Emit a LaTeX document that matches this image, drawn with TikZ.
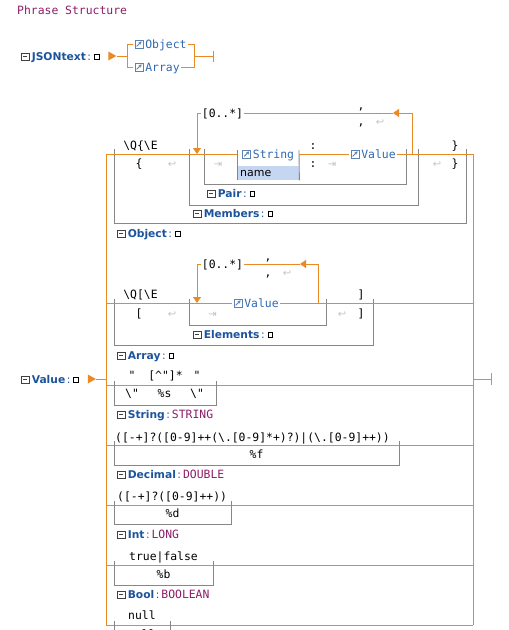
\documentclass[tikz,border=0pt]{standalone}
\usepackage{fontspec}
\setmainfont{DejaVu Sans}
\setmonofont{DejaVu Sans Mono}
\usetikzlibrary{shapes.geometric, arrows.meta, positioning}

\definecolor{railc}{RGB}{234,138,36}
\definecolor{framec}{RGB}{135,135,135}
\definecolor{rulec}{RGB}{28,84,156}
\definecolor{refc}{RGB}{46,104,176}
\definecolor{iconc}{RGB}{95,130,180}
\definecolor{typec}{RGB}{140,28,104}
\definecolor{ghostc}{RGB}{195,195,195}
\definecolor{namec}{RGB}{197,214,242}

% small glyphs used inside the labels
\newcommand{\foldbox}{\tikz[baseline=0pt]{\draw[black!75,line width=.6pt] (0pt,-.5pt) rectangle (7.5pt,7pt); \draw[black!75,line width=.7pt] (1.6pt,3.25pt) -- (5.9pt,3.25pt);}}
\newcommand{\stubbox}{\tikz[baseline=0pt]\draw[black,line width=.7pt] (0pt,1pt) rectangle (4.5pt,5.5pt);}
\newcommand{\linkicon}{\tikz[baseline=0pt]{\draw[iconc,line width=.6pt] (0pt,0pt) rectangle (8pt,8pt); \draw[iconc,line width=.9pt,-{Stealth[length=3pt,width=3.4pt]}] (1.6pt,1.6pt) -- (6.6pt,6.6pt);}}
\newcommand{\rulehead}[1]{\foldbox\hspace{2.5pt}{\color{rulec}\bfseries #1}\hspace{1.5pt}{\color{rulec}:}\hspace{3pt}\stubbox}
\newcommand{\typedhead}[2]{\foldbox\hspace{2.5pt}{\color{rulec}\bfseries #1}\hspace{1.5pt}{\color{rulec}:}\hspace{2pt}{\fontsize{11.4}{13}\ttfamily\color{typec}#2}}

\begin{document}
\begin{tikzpicture}[
    x=1pt, y=-1pt,
    rail/.style={draw=railc, line width=.95pt},
    backrail/.style={rail, -{Triangle[length=6pt, width=8pt]}},
    frame/.style={draw=framec, line width=.9pt},
    tok/.style={inner sep=0pt, anchor=base, font=\fontsize{11.4}{13}\ttfamily},
    ghost/.style={inner sep=0pt, anchor=base, text=ghostc, font=\fontsize{10}{12}\selectfont},
    ref/.style={
        inner xsep=1.5pt, inner ysep=0pt, anchor=west,
        text height=8pt, text depth=0pt,
        text=refc, font=\fontsize{11.4}{13}\ttfamily
    },
    mult/.style={inner xsep=1pt, inner ysep=0pt, text height=8pt, text depth=0pt, font=\fontsize{11.4}{13}\ttfamily},
    head/.style={inner sep=0pt, anchor=base west, font=\fontsize{10.7}{12}\selectfont},
    entry/.style={
        isosceles triangle, isosceles triangle stretches,
        fill=railc, inner sep=0pt, minimum width=9pt, minimum height=8pt
    }
]
    \useasboundingbox (0,0) rectangle (509,630);
    \clip (0,0) rectangle (509,630);

    \node[tok, anchor=base west, text=typec] (title) at (17,14) {Phrase Structure};

    % JSONtext
    \node[head] (jsonhead) at (21,60) {\rulehead{JSONtext}};
    \node[entry] (jsonin) at (111,56) {};
    \coordinate (jsplit) at (127,56);
    \node[ref] (objref) at (133,44) {\linkicon\hspace{2pt}Object};
    \node[ref] (arrref) at (133,67) {\linkicon\hspace{2pt}Array};
    \coordinate (jjoin) at (194,56);
    \coordinate (jsonend) at (214,56);

    \draw[rail] (jsonin.east) -- (jsplit) |- (objref.west);
    \draw[rail] (jsplit) |- (arrref.west);
    \draw[rail] (objref.east) -| (jjoin);
    \draw[rail] (arrref.east) -| (jjoin);
    \draw[rail, -{Bar[width=11pt]}] (jjoin) -- (jsonend);

    % Value
    \node[head] (valhead) at (21,383) {\rulehead{Value}};
    \node[entry] (valin) at (90.5,379) {};
    \coordinate (vsplit) at (106,379);
    \coordinate (vjoin) at (473,379);
    \coordinate (valend) at (492,379);
    \foreach \alt/\y in {Obj/154, Arr/303, Str/385, Dec/445, Int/505, Bool/565, Null/625} {
        \coordinate (a\alt) at (106,\y);
        \coordinate (b\alt) at (473,\y);
    }
    \draw[rail] (aObj) -- (aNull);
    \draw[rail] (bObj) -- (bNull);
    \draw[rail] (valin.east) -- (vsplit);
    \draw[rail, -{Bar[width=12pt]}] (vjoin) -- (valend);
    \foreach \alt in {Str, Dec, Int, Bool, Null}
        \draw[rail] (a\alt) -- (b\alt);

    % grey boxes, open at the top
    \foreach \xa/\xb/\ya/\yb in {114/466/149/223, 189/418/149/205, 204/406/149/184,
                                 114/373/299/345, 189/326/299/325,
                                 114/216/381/405, 114/399/441/465, 114/231/501/524,
                                 114/213/561/585, 114/170/621/650}
        \draw[frame] (\xa,\ya) |- (\xb,\yb) -- (\xb,\ya);

    % Object
    \node[tok] (objopen) at (140.5,149) {\textbackslash Q\{\textbackslash E};
    \node[tok] (objlb) at (139,167) {\{};
    \node[ghost] (objret1) at (172,167) {↩};
    \node[tok] (objrb1) at (455,149) {\}};
    \node[tok] (objrb2) at (455,167) {\}};
    \node[ghost] (objret2) at (437,167) {↩};
    \node[ghost] (pairskip) at (218,167) {⇥};
    \node[ref, minimum width=62pt] (strref) at (237,154) {\linkicon\hspace{2pt}String};
    \node[anchor=north west, fill=namec, inner xsep=3pt, inner ysep=0pt, minimum height=14pt,
          text width=56pt, font=\fontsize{11}{13}\selectfont] (strname) at (237,166) {name};
    \draw[frame] (237,150) -- (strname.south west);
    \draw[frame] (299,150) -- (strname.south east);
    \node[tok] (colon1) at (313,149) {:};
    \node[tok] (colon2) at (313,167) {:};
    \node[ghost] (valskip) at (332,167) {⇥};
    \node[ref] (valref) at (349,154) {\linkicon\hspace{2pt}Value};
    \node[mult] (rep1) at (222.5,113) {[0..*]};
    \node[tok] (sep1a) at (361,109) {,};
    \node[tok] (sep1b) at (361,125) {,};
    \node[ghost] (sep1ret) at (380,125) {↩};
    \coordinate (pairin) at (197,154);
    \coordinate (pairout) at (412,154);
    \coordinate (pairtip) at (393,113);

    \draw[rail] (aObj) -- (strref.west);
    \draw[rail] (strref.east) -- (valref.west);
    \draw[rail] (valref.east) -- (bObj);
    \draw[backrail] (pairout) |- (pairtip);
    \draw[rail] (pairtip) -- (rep1.east);
    \draw[backrail] (rep1.west) -| (pairin);

    \node[head] (pairhead) at (207,197) {\rulehead{Pair}};
    \node[head] (membhead) at (193,217) {\rulehead{Members}};
    \node[head] (objhead) at (117,237) {\rulehead{Object}};

    % Array
    \node[tok] (arropen) at (140.5,298) {\textbackslash Q[\textbackslash E};
    \node[tok] (arrlb) at (139,317) {[};
    \node[ghost] (arrret1) at (172,317) {↩};
    \node[tok] (arrrb1) at (361,298) {]};
    \node[tok] (arrrb2) at (361,317) {]};
    \node[ghost] (arrret2) at (342,317) {↩};
    \node[ghost] (elemskip) at (212.5,317) {⇥};
    \node[ref] (valref2) at (232,303) {\linkicon\hspace{2pt}Value};
    \node[mult] (rep2) at (222.5,264) {[0..*]};
    \node[tok] (sep2a) at (268,260) {,};
    \node[tok] (sep2b) at (268,276) {,};
    \node[ghost] (sep2ret) at (287,276) {↩};
    \coordinate (elemin) at (197,303);
    \coordinate (elemout) at (318,303);
    \coordinate (elemtip) at (300,264);

    \draw[rail] (aArr) -- (valref2.west);
    \draw[rail] (valref2.east) -- (bArr);
    \draw[backrail] (elemout) |- (elemtip);
    \draw[rail] (elemtip) -- (rep2.east);
    \draw[backrail] (rep2.west) -| (elemin);

    \node[head] (elemhead) at (193,338) {\rulehead{Elements}};
    \node[head] (arrhead) at (117,359) {\rulehead{Array}};

    % String
    \node[tok] (quote1) at (132,379) {"};
    \node[tok] (strpat) at (165.5,379) {[\textasciicircum"]*};
    \node[tok] (quote2) at (197,379) {"};
    \node[tok] (esc1) at (132,397) {\textbackslash"};
    \node[tok] (fmts) at (164.5,397) {\%s};
    \node[tok] (esc2) at (197,397) {\textbackslash"};
    \node[head] (strhead) at (117,418) {\typedhead{String}{STRING}};

    % Decimal
    \node[tok, anchor=base west] (decpat) at (115,441) {([-+]?([0-9]++(\textbackslash.[0-9]*+)?)|(\textbackslash.[0-9]++))};
    \node[tok] (fmtf) at (256.5,458) {\%f};
    \node[head] (dechead) at (117,478) {\typedhead{Decimal}{DOUBLE}};

    % Int
    \node[tok, anchor=base west] (intpat) at (117,500) {([-+]?([0-9]++))};
    \node[tok] (fmtd) at (172.5,517) {\%d};
    \node[head] (inthead) at (117,538) {\typedhead{Int}{LONG}};

    % Bool
    \node[tok, anchor=base west] (boolpat) at (129,560) {true|false};
    \node[tok] (fmtb) at (163.5,578) {\%b};
    \node[head] (boolhead) at (117,598) {\typedhead{Bool}{BOOLEAN}};

    % Null
    \node[tok, anchor=base west] (nullpat) at (128,619) {null};
    \node[tok, anchor=base west] (nullout) at (128,638) {null};

\end{tikzpicture}
\end{document}
